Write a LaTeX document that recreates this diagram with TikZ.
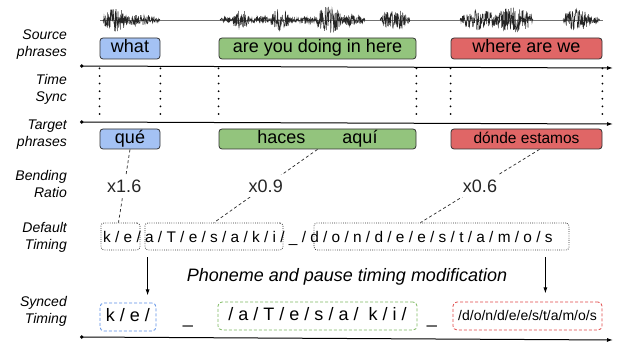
\documentclass[tikz,border=0pt]{standalone}
\usepackage{fontspec}
\setmainfont{Liberation Sans}
\usetikzlibrary{arrows.meta,calc}
\definecolor{bblue}{HTML}{A4C2F4}
\definecolor{bgreen}{HTML}{93C47D}
\definecolor{bred}{HTML}{E06666}
\definecolor{dblue}{HTML}{5B8FE6}
\definecolor{dgreen}{HTML}{7CB85F}
\definecolor{dred}{HTML}{E04848}
\definecolor{boxline}{HTML}{333333}
\begin{document}
\begin{tikzpicture}[x=1pt,y=-1pt,
  lab/.style={font=\fontsize{14}{17}\selectfont\itshape, align=right, anchor=east, inner sep=0pt},
  pbox/.style={draw=boxline, line width=0.8pt, rounded corners=3pt, inner sep=0pt,
    font=\fontsize{18}{20}\selectfont, text height=13pt, text depth=4pt},
  dbox/.style={draw=black!80, line width=0.8pt, dash pattern=on 0.8pt off 1.4pt,
    rounded corners=3pt, inner sep=0pt, minimum height=27pt},
  sbox/.style={line width=0.8pt, dash pattern=on 3pt off 2pt, rounded corners=4pt,
    inner sep=0pt, minimum height=28pt, font=\fontsize{18}{20}\selectfont, text height=13pt, text depth=4pt},
  syncdot/.style={line width=2pt, line cap=round, dash pattern=on 0pt off 7.6pt},
  ratio/.style={fill=white, inner sep=5pt, font=\fontsize{18}{20}\selectfont},
  ratioline/.style={line width=0.7pt, dash pattern=on 3pt off 2.5pt, black!85},
  axis/.style={line width=1pt, {Circle[length=3.5pt]}-{Latex[length=6pt,width=4pt]}},
  tarrow/.style={line width=0.8pt, -{Latex[length=6pt,width=4pt]}},
  wave/.style={line width=0.5pt, black!85}]
\useasboundingbox (0,0) rectangle (630,347);

% waveform
\draw[line width=0.5pt, black!55] (100,20) -- (603,20);
\pgfmathsetseed{12}
\foreach \s/\e/\a in {103/128/12,118/160/5,220/232/3,232/250/10,250/270/4,270/290/11,288/318/4,316/342/14,338/365/6,380/410/10,460/500/10,495/533/13,563/592/11,588/600/3}{
  \pgfmathtruncatemacro\n{3*(\e-\s)+1}
  \draw[wave] plot[domain=\s:\e, samples=\n] (\x, {20 + \a*sqrt(abs(sin(180*(\x-\s)/(\e-\s))))*rand});
}

% row labels
\node[lab] (l1) at (67,45) {Source\\phrases};
\node[lab] (l2) at (67,89.5) {Time\\Sync};
\node[lab] (l3) at (67,135) {Target\\phrases};
\node[lab] (l4) at (67,184) {Bending\\Ratio};
\node[lab] (l5) at (67,237.5) {Default\\Timing};
\node[lab] (l6) at (67,311) {Synced\\Timing};

% source phrases
\node[pbox, fill=bblue, minimum width=60pt, minimum height=21pt] (src1) at (130,48.5) {what};
\node[pbox, fill=bgreen, minimum width=197pt, minimum height=21pt] (src2) at (317.5,48.5) {are you doing in here};
\node[pbox, fill=bred, minimum width=151pt, minimum height=21pt] (src3) at (526.5,48.5) {where are we};

% axes
\coordinate (a1s) at (80,66);  \coordinate (a1e) at (613,68);
\coordinate (a2s) at (80,122); \coordinate (a2e) at (613,124);
\coordinate (a3s) at (80,337); \coordinate (a3e) at (613,340);
\draw[axis] (a1s) -- (a1e);
\draw[axis] (a2s) -- (a2e);
\draw[axis] (a3s) -- (a3e);

% target phrases
\node[pbox, fill=bblue, minimum width=60pt, minimum height=20pt] (tgt1) at (130,139) {qué};
\node[pbox, fill=bgreen, minimum width=197pt, minimum height=20pt] (tgt2) at (317.5,139) {haces\hspace*{37pt}aquí};
\node[pbox, fill=bred, minimum width=151pt, minimum height=20pt, font=\fontsize{15.5}{18}\selectfont] (tgt3) at (526.5,139) {dónde estamos};

% time sync dotted lines
\foreach \n in {1,2,3}{
  \draw[syncdot] ([yshift=-9pt]src\n.south west) -- ([yshift=13pt]tgt\n.north west);
  \draw[syncdot] ([yshift=-9pt]src\n.south east) -- ([yshift=13pt]tgt\n.north east);
}

% default timing
\node[dbox, minimum width=39pt] (d1) at (120.5,236.5) {};
\node[dbox, minimum width=138pt] (d2) at (214,236.5) {};
\node[dbox, minimum width=255pt] (d3) at (441.5,236.5) {};
\node[anchor=west, inner sep=0pt, font=\fontsize{15.4}{18}\selectfont] (dtext) at (103,238)
  {k / e / a / T / e / s / a / k / i / \_ / d / o / n / d / e / e / s / t / a / m / o / s};

% bending ratio connectors
\draw[ratioline] (tgt1.south) -- node[ratio] {x1.6} ([xshift=-2pt]d1.north);
\draw[ratioline] (tgt2.south) -- node[ratio] {x0.9} (d2.north);
\draw[ratioline] ([xshift=13pt]tgt3.south) -- node[ratio] {x0.6} ([xshift=-21pt]d3.north);

% modification
\node[font=\fontsize{18}{20}\selectfont\itshape] (mod) at (347,277) {Phoneme and pause timing modification};

% synced timing
\node[sbox, draw=dblue, minimum width=56pt] (s1) at (128,317) {k / e /};
\node[sbox, draw=dgreen, minimum width=199pt] (s2) at (317.5,316) {/ a / T / e / s / a /~ k / i /};
\node[sbox, draw=dred, minimum width=149pt, font=\fontsize{14}{16}\selectfont] (s3) at (527.5,316) {/d/o/n/d/e/e/s/t/a/m/o/s};
\node[font=\fontsize{18}{20}\selectfont, anchor=base, inner sep=0pt] (u1) at (188,324) {\_};
\node[font=\fontsize{18}{20}\selectfont, anchor=base, inner sep=0pt] (u2) at (432,324) {\_};

\draw[tarrow] ([xshift=3pt,yshift=-7pt]d2.south west) -- ([xshift=3pt,yshift=-45pt]d2.south west);
\draw[tarrow] ([xshift=-24pt,yshift=-7pt]d3.south east) -- ([xshift=-24pt,yshift=-43pt]d3.south east);
\end{tikzpicture}
\end{document}
